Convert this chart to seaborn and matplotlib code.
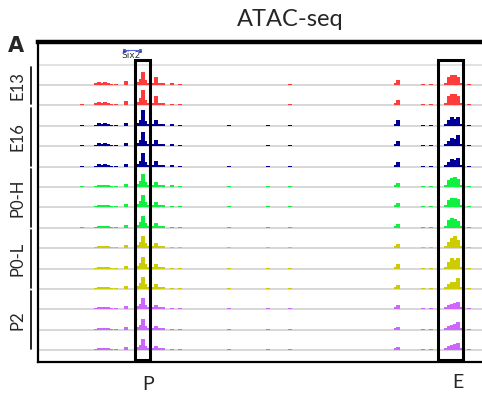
import matplotlib
matplotlib.use("Agg")
import matplotlib.pyplot as plt
import matplotlib.patches as mpatches
import seaborn as sns

# genomic positions of signal bins (in window units)
positions = [82, 96, 99, 102, 105, 108, 111, 116, 126, 139, 141, 143, 145, 147, 149,
             153, 156, 159, 163, 172, 180, 229, 268, 290, 396, 398, 423, 431,
             446, 449, 452, 455, 458, 461, 469]

# ATAC signal per track (top to bottom)
e13_1 = [0, 2, 3, 2, 3, 2, 1, 1, 4, 3, 6, 13, 5, 2, 1, 2, 8, 2, 2, 2, 1, 0, 0, 1, 2, 5, 1, 1, 2, 8, 10, 10, 8, 2, 1]
e13_2 = [1, 2, 3, 2, 3, 2, 1, 1, 4, 3, 7, 15, 5, 2, 1, 2, 9, 2, 2, 1, 1, 0, 0, 1, 2, 5, 1, 1, 2, 9, 11, 11, 9, 2, 1]
e16_1 = [1, 1, 3, 2, 3, 2, 1, 1, 3, 3, 6, 16, 5, 2, 1, 2, 6, 2, 2, 2, 1, 1, 1, 1, 2, 6, 1, 1, 2, 6, 9, 7, 9, 2, 1]
e16_2 = [1, 1, 3, 2, 3, 2, 1, 1, 3, 3, 6, 14, 5, 2, 1, 2, 6, 2, 2, 2, 1, 0, 1, 1, 2, 5, 1, 1, 2, 5, 8, 7, 11, 2, 1]
e16_3 = [1, 1, 3, 2, 3, 2, 1, 1, 3, 3, 6, 14, 5, 2, 1, 2, 6, 2, 2, 2, 1, 1, 1, 1, 2, 5, 1, 1, 2, 5, 8, 7, 9, 2, 1]
p0h_1 = [1, 1, 2, 2, 2, 2, 1, 1, 3, 3, 6, 13, 5, 2, 1, 2, 5, 2, 2, 2, 1, 1, 1, 1, 2, 4, 1, 1, 2, 7, 9, 10, 8, 2, 1]
p0h_2 = [0, 1, 2, 2, 2, 2, 1, 1, 3, 3, 6, 12, 5, 2, 1, 2, 5, 2, 2, 1, 1, 1, 1, 1, 2, 4, 1, 1, 2, 7, 9, 9, 8, 2, 1]
p0h_3 = [1, 1, 2, 2, 2, 2, 1, 1, 3, 3, 6, 12, 5, 2, 1, 2, 5, 2, 2, 1, 1, 1, 1, 1, 2, 4, 1, 1, 2, 8, 10, 9, 7, 2, 1]
p0l_1 = [0, 1, 2, 2, 2, 2, 1, 1, 3, 3, 6, 12, 5, 2, 1, 2, 5, 2, 2, 1, 1, 1, 1, 1, 2, 4, 1, 1, 2, 6, 10, 12, 8, 2, 1]
p0l_2 = [0, 1, 2, 2, 2, 2, 1, 1, 3, 3, 6, 12, 5, 2, 1, 2, 5, 2, 2, 1, 1, 1, 1, 1, 2, 5, 1, 1, 2, 7, 11, 9, 11, 2, 1]
p0l_3 = [0, 1, 2, 2, 2, 2, 1, 1, 3, 3, 6, 12, 5, 2, 1, 2, 5, 2, 2, 1, 1, 1, 1, 1, 2, 4, 1, 1, 2, 5, 7, 7, 11, 2, 1]
p2_1 = [0, 1, 2, 2, 2, 2, 1, 1, 3, 3, 5, 11, 4, 2, 1, 2, 4, 2, 2, 1, 1, 1, 1, 1, 2, 4, 1, 1, 2, 4, 5, 6, 7, 2, 1]
p2_2 = [0, 1, 2, 2, 2, 2, 1, 1, 3, 3, 5, 11, 4, 2, 1, 2, 4, 2, 2, 1, 1, 1, 1, 1, 2, 3, 1, 1, 2, 4, 5, 6, 8, 2, 1]
p2_3 = [0, 1, 2, 2, 2, 2, 1, 1, 3, 3, 5, 11, 4, 2, 1, 2, 4, 2, 2, 1, 1, 1, 1, 1, 2, 3, 1, 1, 2, 4, 5, 6, 7, 2, 1]

tracks = [e13_1, e13_2, e16_1, e16_2, e16_3, p0h_1, p0h_2, p0h_3,
          p0l_1, p0l_2, p0l_3, p2_1, p2_2, p2_3]
groups = ["E13", "E16", "P0-H", "P0-L", "P2"]
group_sizes = [2, 3, 3, 3, 3]
group_colors = ["#ff3c3c", "#000099", "#10f040", "#cccc00", "#cc66ff"]

sns.set_style("white")
plt.rcParams["font.family"] = ["Lato", "DejaVu Sans"]

fig = plt.figure(figsize=(4.82, 3.99), dpi=100)
ax = fig.add_axes([38 / 482, 37 / 399, 1 - 38 / 482, 320 / 399])
ax.set_xlim(38, 482)
ax.set_ylim(0, 320)

row_gap = 20.4
top_base = 277
ax.axhline(297, color="#dddddd", lw=1.2, zorder=1)

colors = []
for c, n in zip(group_colors, group_sizes):
    colors += [c] * n

for i, (vals, col) in enumerate(zip(tracks, colors)):
    base = top_base - i * row_gap
    ax.axhline(base, color="#d4d4d4", lw=1.3, zorder=1)
    ax.bar(positions, vals, width=3.2, bottom=base, color=col, linewidth=0, zorder=2)

# highlighted regions
for x0, x1 in [(135, 150), (438, 463)]:
    ax.add_patch(mpatches.Rectangle((x0, 2), x1 - x0, 300, fill=False,
                                    edgecolor="black", lw=2.2, zorder=5))

ax.set_xticks([])
ax.set_yticks([])
ax.spines["right"].set_visible(False)
ax.spines["top"].set_linewidth(3.2)
ax.spines["left"].set_linewidth(1.6)
ax.spines["bottom"].set_linewidth(1.6)
for s in ["top", "left", "bottom"]:
    ax.spines[s].set_color("black")

# gene annotation
ax.plot([123, 141], [312, 312], color="#5566dd", lw=0.8)
ax.bar([124, 140], [5, 5], width=3.5, bottom=309.5, color="#1a2bd6")
ax.text(131, 307, "Six2", fontsize=6.5, ha="center", va="center", color="#333333",
        family=["DejaVu Sans"])

# group labels
fig_h = 399
for k, (g, n) in enumerate(zip(groups, group_sizes)):
    start = sum(group_sizes[:k])
    first_px = 362 - (top_base - start * row_gap)
    last_px = 362 - (top_base - (start + n - 1) * row_gap)
    top_px, bot_px = first_px - 18, last_px - 1
    fig.add_artist(plt.Line2D([31 / 482, 31 / 482], [1 - top_px / fig_h, 1 - bot_px / fig_h],
                              color="black", lw=1.2))
    fig.text(17 / 482, 1 - (top_px + bot_px) / 2 / fig_h, g, rotation=90,
             ha="center", va="center", fontsize=12)

fig.text(290 / 482, 1 - 20 / fig_h, "ATAC-seq", ha="center", va="center", fontsize=17)
fig.text(16 / 482, 1 - 46 / fig_h, "A", ha="center", va="center", fontsize=15,
         fontweight="bold", family=["DejaVu Sans"])
fig.text(148 / 482, 1 - 385 / fig_h, "P", ha="center", va="center", fontsize=14)
fig.text(458 / 482, 1 - 383 / fig_h, "E", ha="center", va="center", fontsize=14)

fig.savefig("out.png", dpi=100)
